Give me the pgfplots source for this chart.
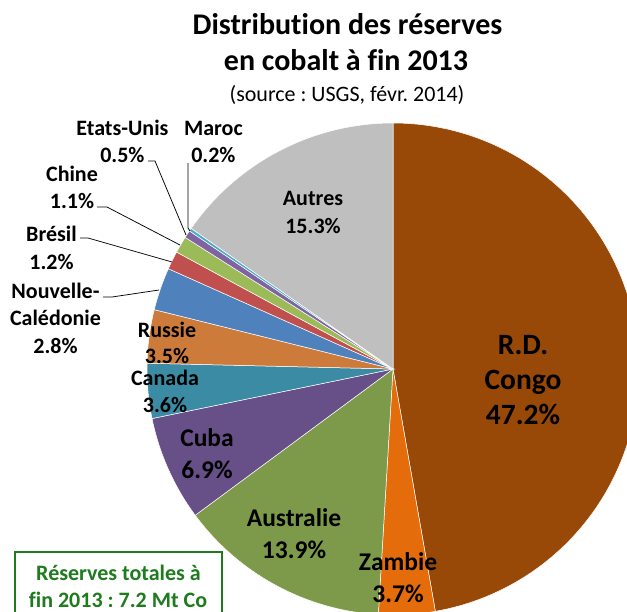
\documentclass[border=0pt]{standalone}
\usepackage{pgfplots}
\pgfplotsset{compat=1.18}
\usepackage{fontspec}
\setmainfont{Carlito}[Ligatures=NoCommon, Contextuals=NoAlternate]
\frenchspacing
\definecolor{cCongo}{HTML}{984807}
\definecolor{cZambie}{HTML}{E46C0A}
\definecolor{cAustralie}{HTML}{7D9A4A}
\definecolor{cCuba}{HTML}{674F87}
\definecolor{cCanada}{HTML}{3A8BA3}
\definecolor{cRussie}{HTML}{CD7B3A}
\definecolor{cNC}{HTML}{4F81BD}
\definecolor{cBresil}{HTML}{C0504D}
\definecolor{cChine}{HTML}{9BBB59}
\definecolor{cEU}{HTML}{8064A2}
\definecolor{cMaroc}{HTML}{4BACC6}
\definecolor{cAutres}{HTML}{BFBFBF}
\definecolor{cBox}{HTML}{1E7B1E}
% slice: cumulative start %, cumulative end %, colour
\newcommand{\slice}[3]{\addplot[fill=#3, draw=white, line width=0.5pt, domain=#1:#2, samples=120, variable=\t] ({393+246*cos(90-3.6036*\t)}, {369-246*sin(90-3.6036*\t)}) -- (axis cs:393,369) -- cycle;}
% label: x, visual centre y, size, text
\newcommand{\lab}[4]{\node[anchor=base, inner sep=0pt, font=\fontsize{#3bp}{#3bp}\selectfont\bfseries] at (axis cs:#1,{#2+0.32*#3}) {#4};}
\begin{document}
\begin{tikzpicture}
\begin{axis}[
  scale only axis, width=627bp, height=612bp,
  xmin=0, xmax=627, ymin=0, ymax=612, y dir=reverse,
  hide axis, clip=true,
]
% cumulative shares (%): Congo 47.2, Zambie 3.7, Australie 13.9, Cuba 6.9, Canada 3.6,
% Russie 3.5, Nouvelle-Caledonie 2.8, Bresil 1.2, Chine 1.1, Etats-Unis 0.5, Maroc 0.2, Autres 15.3
\slice{0}{47.2}{cCongo}
\slice{47.2}{50.9}{cZambie}
\slice{50.9}{64.8}{cAustralie}
\slice{64.8}{71.7}{cCuba}
\slice{71.7}{75.3}{cCanada}
\slice{75.3}{78.8}{cRussie}
\slice{78.8}{81.6}{cNC}
\slice{81.6}{82.8}{cBresil}
\slice{82.8}{83.9}{cChine}
\slice{83.9}{84.4}{cEU}
\slice{84.4}{84.6}{cMaroc}
\slice{84.6}{99.9}{cAutres}

% leader lines
\draw[black, line width=0.75pt] (axis cs:148,161) -- (axis cs:155,161) -- (axis cs:186,235);
\draw[black, line width=0.75pt] (axis cs:188,163) -- (axis cs:188,228) -- (axis cs:190,231);
\draw[black, line width=0.75pt] (axis cs:97,207) -- (axis cs:107,207) -- (axis cs:180,245);
\draw[black, line width=0.75pt] (axis cs:80,238) -- (axis cs:88,238) -- (axis cs:172,262);
\draw[black, line width=0.75pt] (axis cs:103,297) -- (axis cs:112,297) -- (axis cs:159,290);

% title
\lab{347.5}{25}{30}{Distribution des réserves}
\lab{346}{61}{30}{en cobalt à fin 2013}
\node[anchor=base, inner sep=0pt, font=\fontsize{22bp}{22bp}\selectfont] at (axis cs:347,{94+7}) {(source : USGS, févr. 2014)};

% labels
\lab{523}{345}{29.5}{R.D.}
\lab{523}{380}{29.5}{Congo}
\lab{523}{415}{29.5}{47.2\%}
\lab{313}{198}{22}{Autres}
\lab{313}{226}{22}{15.3\%}
\lab{294}{518}{25.5}{Australie}
\lab{294}{550}{25.5}{13.9\%}
\lab{398}{562}{25.5}{Zambie}
\lab{398}{594}{25.5}{3.7\%}
\lab{207}{438}{25.5}{Cuba}
\lab{207}{470}{25.5}{6.9\%}
\lab{165}{378}{22}{Canada}
\lab{165}{405}{22}{3.6\%}
\lab{167}{330}{22}{Russie}
\lab{167}{356}{22}{3.5\%}
\lab{55.5}{291}{22}{Nouvelle-}
\lab{55.5}{318}{22}{Calédonie}
\lab{55.5}{346}{22}{2.8\%}
\lab{51.5}{234}{22}{Brésil}
\lab{51.5}{262}{22}{1.2\%}
\lab{72}{174}{22}{Chine}
\lab{72}{201}{22}{1.1\%}
\lab{122.4}{128}{22}{Etats-Unis}
\lab{122.4}{155}{22}{0.5\%}
\lab{213.4}{128}{22}{Maroc}
\lab{213.4}{155}{22}{0.2\%}

% total box
\draw[cBox, line width=1.5pt, fill=white] (axis cs:15,552) rectangle (axis cs:222,640);
\node[anchor=base, inner sep=0pt, text=cBox, font=\fontsize{22bp}{22bp}\selectfont\bfseries] at (axis cs:118.5,{573+7}) {Réserves totales à};
\node[anchor=base, inner sep=0pt, text=cBox, font=\fontsize{22bp}{22bp}\selectfont\bfseries] at (axis cs:118,{600+7}) {fin 2013 : 7.2 Mt Co};
\end{axis}
\pgfresetboundingbox
\path[use as bounding box] (current axis.south west) rectangle (current axis.north east);
\end{tikzpicture}
\end{document}
